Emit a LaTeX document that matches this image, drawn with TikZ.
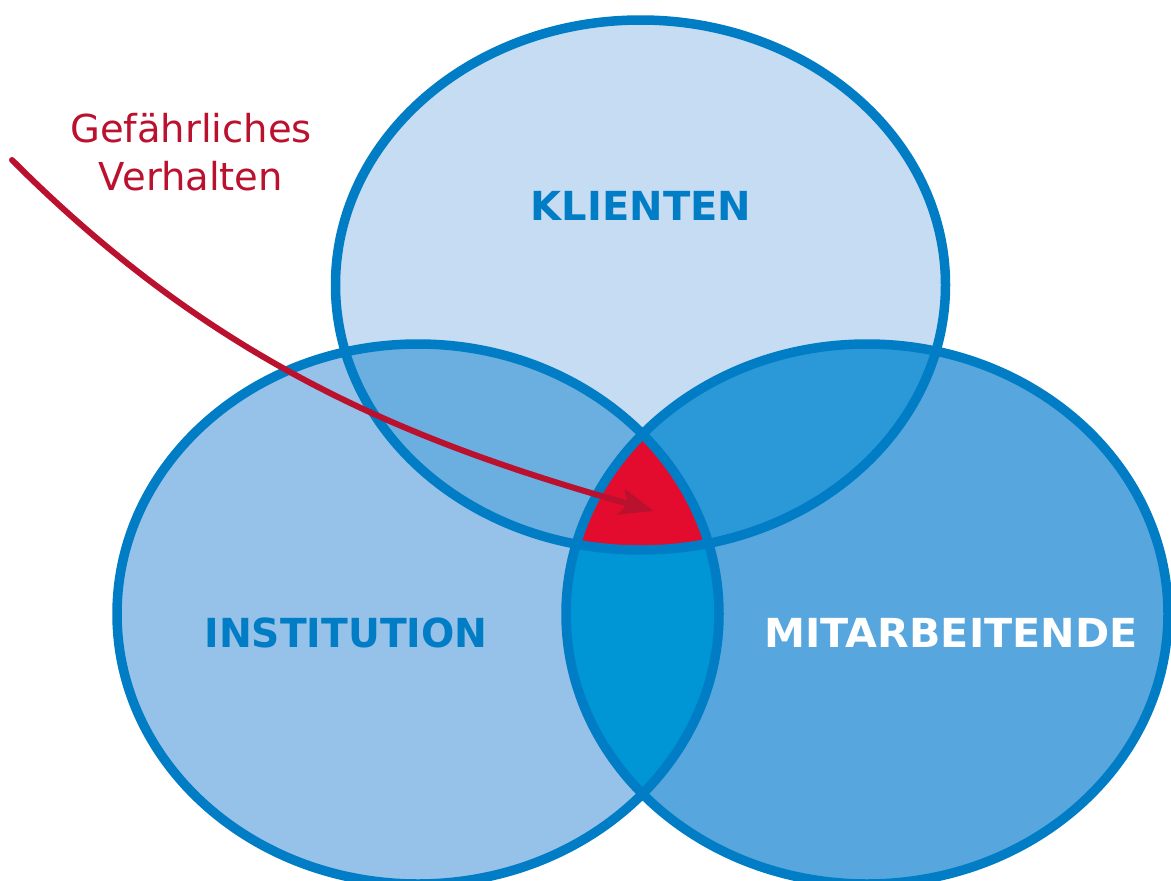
\documentclass[tikz,border=0pt]{standalone}
\usepackage{fontspec}
\setmainfont{DejaVu Sans}
\usetikzlibrary{arrows.meta}

\definecolor{ringblue}{RGB}{0,125,197}
\definecolor{fillK}{RGB}{198,220,243}
\definecolor{fillI}{RGB}{150,193,232}
\definecolor{fillM}{RGB}{87,167,222}
\definecolor{fillKI}{RGB}{107,174,224}
\definecolor{fillKM}{RGB}{43,153,216}
\definecolor{fillIM}{RGB}{0,149,213}
\definecolor{coreRed}{RGB}{227,12,46}
\definecolor{arrowRed}{RGB}{186,18,46}

\tikzset{
  ring/.style={draw=ringblue, line width=9.5pt},
  setlabel/.style={font=\bfseries\fontsize{40}{42}\selectfont, inner sep=0pt, anchor=base},
  hint/.style={font=\fontsize{38.5}{48}\selectfont, text=arrowRed, align=center, inner sep=0pt, anchor=base},
  hazard/.style={draw=arrowRed, line width=6pt, line cap=round,
    -{Stealth[length=34pt, width=26pt, inset=7pt]}}
}

% the three circles of the diagram
\def\ellK{(640.5,285) ellipse [x radius=305, y radius=265]}
\def\ellI{(418,614) ellipse [x radius=301, y radius=270]}
\def\ellM{(867,614) ellipse [x radius=301, y radius=270]}

\begin{document}
\begin{tikzpicture}[x=1pt, y=-1pt]
  \useasboundingbox (0,0) rectangle (1171,881);
  \clip (0,0) rectangle (1171,881);

  % single areas
  \fill[fillK] \ellK;
  \fill[fillI] \ellI;
  \fill[fillM] \ellM;

  % pairwise overlaps
  \begin{scope}
    \clip \ellK;
    \fill[fillKI] \ellI;
    \fill[fillKM] \ellM;
  \end{scope}
  \begin{scope}
    \clip \ellI;
    \fill[fillIM] \ellM;
  \end{scope}

  % common core
  \begin{scope}
    \clip \ellK;
    \clip \ellI;
    \fill[coreRed] \ellM;
  \end{scope}

  % outlines
  \draw[ring] \ellK;
  \draw[ring] \ellI;
  \draw[ring] \ellM;

  % set names
  \node[setlabel, text=ringblue] (klienten) at (641,220) {KLIENTEN};
  \node[setlabel, text=ringblue, xscale=0.98] (institution) at (346,647) {INSTITUTION};
  \node[setlabel, text=white, xscale=1.03] (mitarbeitende) at (951,647) {MITARBEITENDE};

  % dangerous behaviour pointing into the core
  \node[hint] (gefahr) at (191,190) {Gefährliches\\Verhalten};
  \coordinate (tail) at (12,160);
  \coordinate (core) at (654,511);
  \draw[hazard] (tail) .. controls (212,360) and (402,440) .. (core);
\end{tikzpicture}
\end{document}
